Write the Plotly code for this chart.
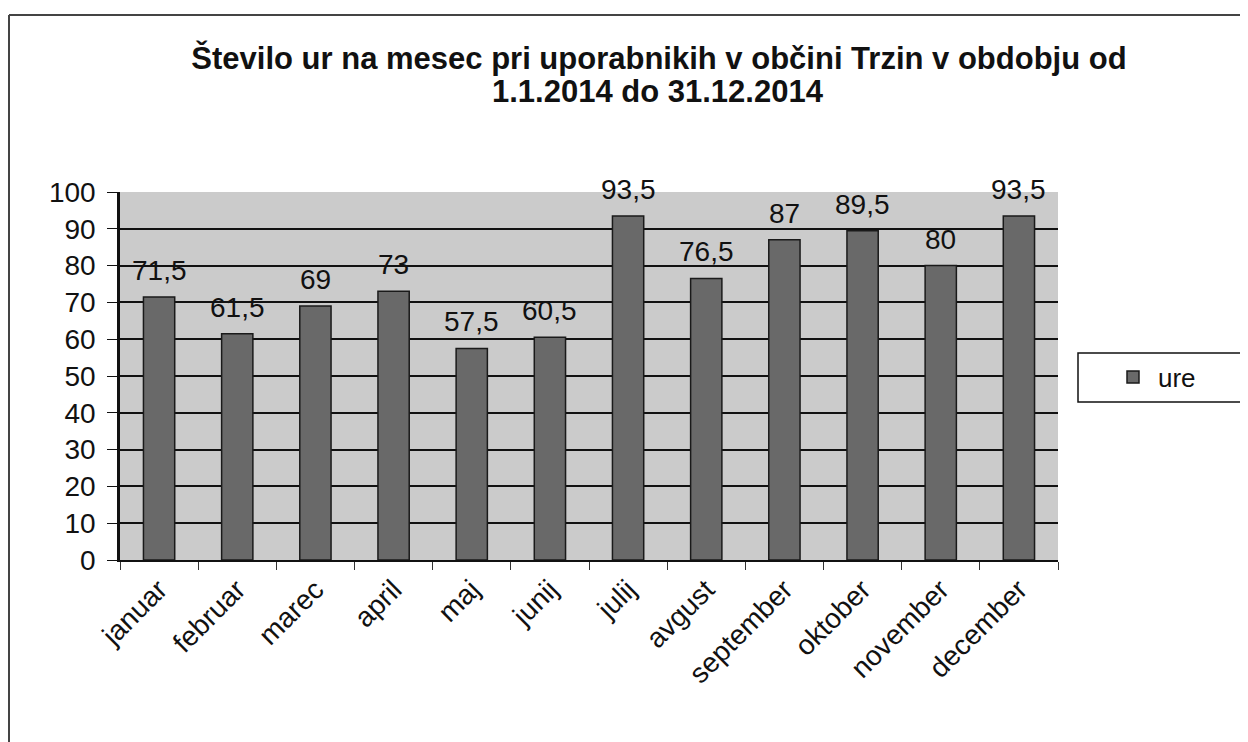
import plotly.graph_objects as go

months = ["januar", "februar", "marec", "april", "maj", "junij", "julij",
          "avgust", "september", "oktober", "november", "december"]
ure = [71.5, 61.5, 69, 73, 57.5, 60.5, 93.5, 76.5, 87, 89.5, 80, 93.5]
y_ticks = [0, 10, 20, 30, 40, 50, 60, 70, 80, 90, 100]

labels = [(f"{v:g}").replace(".", ",") for v in ure]
title_lines = ["Število ur na mesec pri uporabnikih v občini Trzin v obdobju od",
               "1.1.2014 do 31.12.2014"]

FONT = "Liberation Sans, Arial, sans-serif"

# figure is placed at (8,8) on the page by the body margin
W, H = 1240, 734
L, R, T, B = 112, 1050, 184, 552
PW, PH = R - L, B - T

def px(xf):
    return (xf - L) / PW

def py(yf):
    return (B - yf) / PH

fig = go.Figure()
fig.add_trace(go.Bar(
    x=months, y=ure, name="ure",
    marker=dict(color="#696969", line=dict(color="#1a1a1a", width=1.5)),
))

for m, v, t in zip(months, ure, labels):
    fig.add_annotation(x=m, y=v, text=t, showarrow=False, yanchor="bottom",
                       yshift=9, font=dict(family=FONT, size=28, color="#111"))

# second title line
fig.add_annotation(xref="paper", yref="paper", x=px(650), y=py(84),
                   text="<b>" + title_lines[1] + "</b>", showarrow=False,
                   xanchor="center", yanchor="middle",
                   font=dict(family=FONT, size=31, color="#111"))

fig.update_layout(
    width=W, height=H,
    margin=dict(l=L, r=W - R, t=T, b=H - B),
    paper_bgcolor="white", plot_bgcolor="#cbcbcb",
    bargap=0.6,
    showlegend=True,
    font=dict(family=FONT, color="#111"),
    title=dict(
        text="<b>" + title_lines[0] + "</b>",
        x=px(651), xref="paper", xanchor="center",
        y=1 - 50 / H, yref="container", yanchor="middle",
        font=dict(family=FONT, size=31, color="#111"),
    ),
    legend=dict(
        x=px(1100), xanchor="left",
        y=py(369), yanchor="middle",
        bgcolor="rgba(0,0,0,0)", borderwidth=0,
        font=dict(family=FONT, size=26, color="#111"),
        itemwidth=40,
    ),
    xaxis=dict(
        showline=True, linecolor="#111", linewidth=2,
        ticks="outside", ticklen=8, tickcolor="#333", tickson="boundaries",
        tickangle=-45, tickfont=dict(family=FONT, size=28, color="#111"),
        showgrid=False,
    ),
    yaxis=dict(
        range=[0, 100], tickvals=y_ticks,
        showline=True, linecolor="#111", linewidth=2.5,
        ticks="outside", ticklen=10, tickcolor="#111",
        tickfont=dict(family=FONT, size=28, color="#111"),
        ticklabelstandoff=6,
        showgrid=True, gridcolor="#111", gridwidth=2,
        zeroline=False,
    ),
)

# legend frame (extends past the right edge)
fig.add_shape(type="rect", xref="paper", yref="paper",
              x0=px(1070), x1=px(W + 5), y0=py(345), y1=py(394),
              line=dict(color="#111", width=1.5), fillcolor="rgba(0,0,0,0)")

# outer chart frame (top and left edges visible)
fig.add_shape(type="line", xref="paper", yref="paper",
              x0=px(1), x1=px(W), y0=py(7), y1=py(7),
              line=dict(color="#444", width=2))
fig.add_shape(type="line", xref="paper", yref="paper",
              x0=px(1), x1=px(1), y0=py(7), y1=py(H),
              line=dict(color="#444", width=2))

fig.write_html("out.html")
